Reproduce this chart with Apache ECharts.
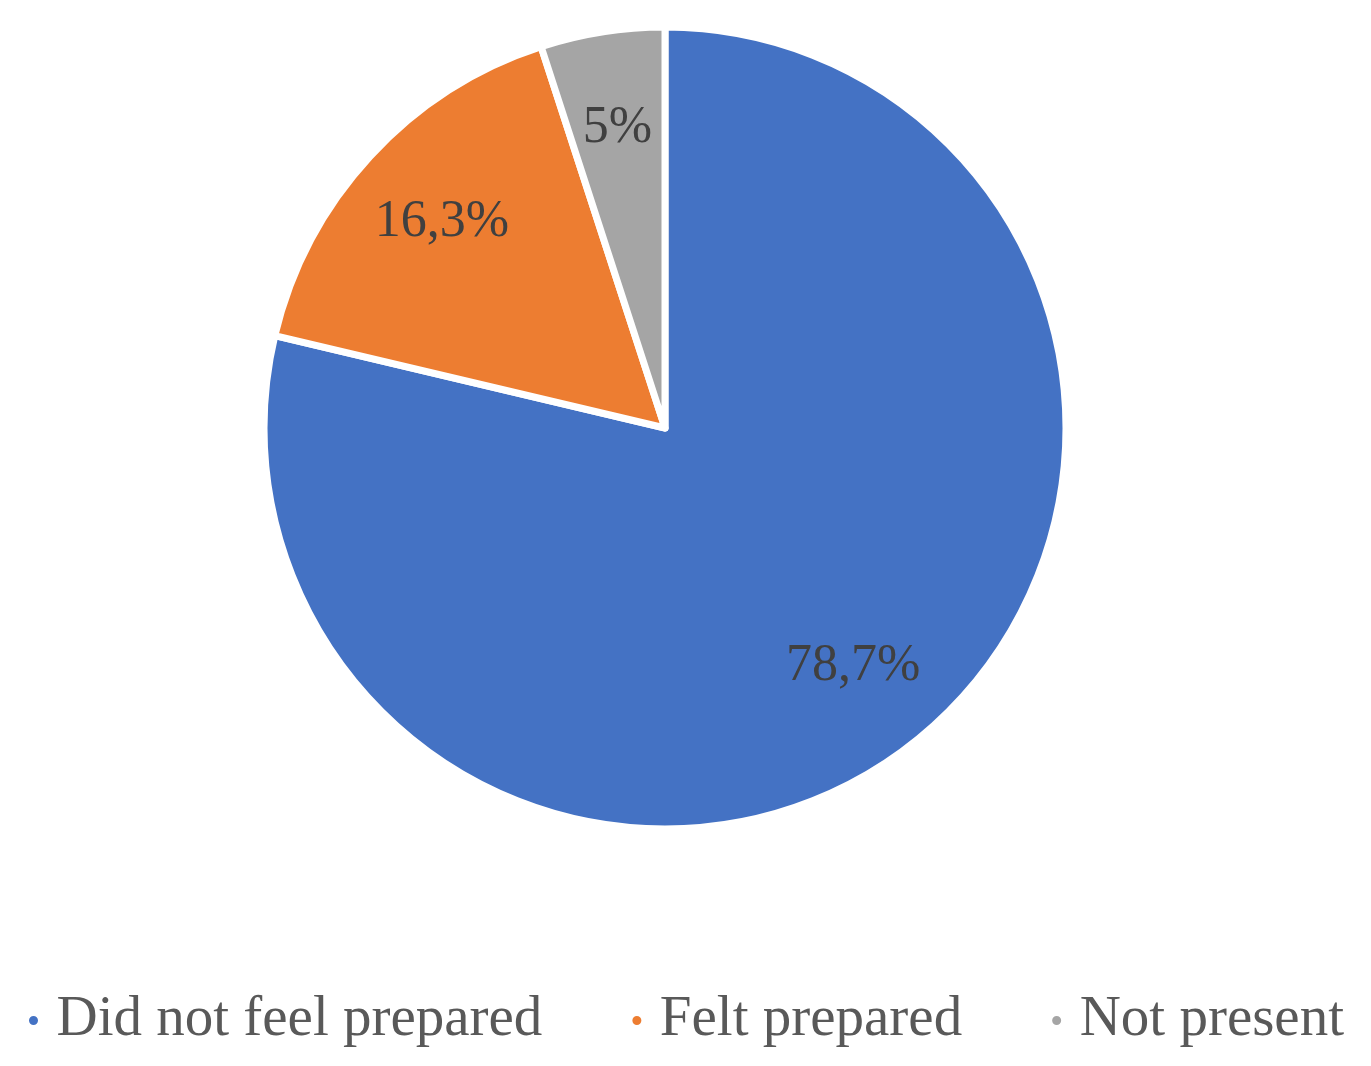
<!DOCTYPE html>
<html>
<head>
<meta charset="utf-8">
<style>
  html, body { margin: 0; padding: 0; background: #fff; }
  #chart { width: 1371px; height: 1066px; }
</style>
<script src="https://cdn.jsdelivr.net/npm/echarts@6/dist/echarts.min.js"></script>
</head>
<body>
<div id="chart"></div>
<script>
const categories = ["Did not feel prepared", "Felt prepared", "Not present"];
const values = [78.7, 16.3, 5];
const labels = ["78,7%", "16,3%", "5%"];
const colors = ["#4472C4", "#ED7D31", "#A5A5A5"];

const chart = echarts.init(document.getElementById("chart"));

const pieData = categories.map((name, i) => ({
    name: name,
    value: values[i],
    itemStyle: { color: colors[i] }
}));

chart.setOption({
    animation: false,
    legend: {
        data: categories,
        left: "center",
        bottom: 12,
        icon: "circle",
        itemWidth: 36,
        itemHeight: 11,
        itemGap: 88,
        textStyle: {
            fontFamily: "Liberation Serif",
            fontSize: 57,
            color: "#595959"
        }
    },
    series: [
        {
            // the pie itself
            type: "pie",
            center: [665, 428],
            radius: [0, 401],
            startAngle: 90,
            clockwise: true,
            silent: true,
            itemStyle: { borderColor: "#fff", borderWidth: 7 },
            label: { show: false },
            labelLine: { show: false },
            data: pieData
        },
        {
            // transparent ring only to put the percent labels at ~3/4 radius
            type: "pie",
            center: [665, 428],
            radius: [200, 401],
            startAngle: 90,
            clockwise: true,
            silent: true,
            legendHoverLink: false,
            itemStyle: { color: "rgba(0,0,0,0)", borderWidth: 0 },
            label: {
                show: true,
                position: "inside",
                fontFamily: "Liberation Serif",
                fontSize: 52,
                color: "#404040",
                formatter: (p) => labels[p.dataIndex]
            },
            labelLine: { show: false },
            data: categories.map((name, i) => ({ name: name, value: values[i] }))
        }
    ]
});
</script>
</body>
</html>
